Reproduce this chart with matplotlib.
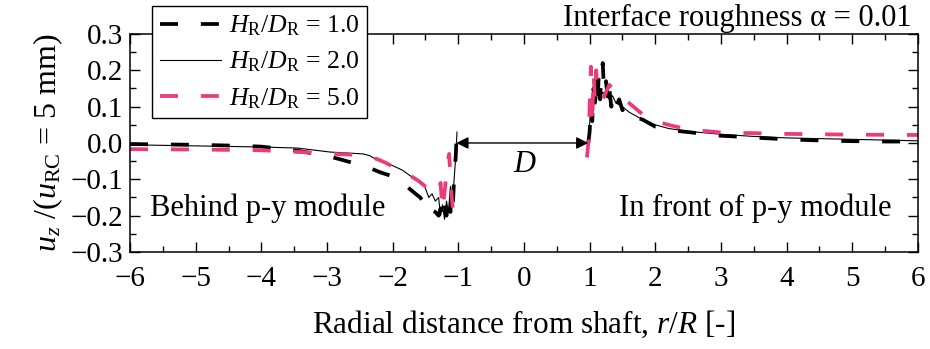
import numpy as np
import matplotlib.pyplot as plt
from matplotlib.ticker import MultipleLocator

plt.rcParams["font.family"] = ["Liberation Serif", "DejaVu Serif"]
plt.rcParams["mathtext.fontset"] = "custom"
plt.rcParams["mathtext.rm"] = "Liberation Serif"
plt.rcParams["mathtext.it"] = "Liberation Serif:italic"

PINK = "#EC3A7C"

# H_R/D_R = 1.0 (thick black dashed)
x1_left = [-6, -5.5, -5, -4.5, -4, -3.5, -3, -2.8, -2.6, -2.4, -2.2, -1.95, -1.85, -1.75, -1.65,
           -1.58, -1.5, -1.45, -1.4, -1.35, -1.3, -1.27, -1.24, -1.21, -1.18, -1.15, -1.12, -1.1,
           -1.08, -1.06, -1.04, -1.03, -1.02]
y1_left = [-0.003, -0.004, -0.005, -0.007, -0.01, -0.02, -0.035, -0.045, -0.055, -0.065, -0.08,
           -0.095, -0.11, -0.125, -0.14, -0.15, -0.17, -0.16, -0.185, -0.19, -0.2, -0.18, -0.21,
           -0.17, -0.2, -0.15, -0.19, -0.12, -0.16, -0.08, -0.04, 0.0, 0.03]
x1_right = [0.98, 1.0, 1.02, 1.04, 1.06, 1.08, 1.1, 1.12, 1.14, 1.16, 1.18, 1.2, 1.22, 1.25, 1.28,
            1.3, 1.33, 1.36, 1.4, 1.45, 1.5, 1.55, 1.6, 1.7, 1.8, 1.9, 2.0, 2.2, 2.4, 2.7, 3.0,
            3.5, 4.0, 4.5, 5.0, 5.5, 6.0]
y1_right = [0.0, 0.03, 0.1, 0.06, 0.15, 0.09, 0.17, 0.11, 0.19, 0.12, 0.2, 0.22, 0.14, 0.17, 0.11,
            0.15, 0.1, 0.13, 0.1, 0.12, 0.09, 0.1, 0.08, 0.07, 0.065, 0.055, 0.045, 0.037, 0.032,
            0.026, 0.02, 0.015, 0.01, 0.007, 0.005, 0.004, 0.004]

# H_R/D_R = 2.0 (thin black solid)
x2_left = [-6, -5, -4, -3.45, -2.95, -2.45, -2.35, -2.2, -2.05, -1.85, -1.75, -1.65, -1.55, -1.5,
           -1.45, -1.4, -1.35, -1.3, -1.27, -1.24, -1.21, -1.18, -1.15, -1.12, -1.09, -1.06,
           -1.04, -1.02]
y2_left = [-0.005, -0.008, -0.011, -0.014, -0.025, -0.03, -0.035, -0.05, -0.058, -0.075, -0.088,
           -0.1, -0.11, -0.125, -0.15, -0.14, -0.16, -0.15, -0.2, -0.17, -0.21, -0.16, -0.19,
           -0.12, -0.17, -0.09, -0.04, 0.03]
x2_right = [0.97, 1.0, 1.02, 1.05, 1.08, 1.1, 1.13, 1.16, 1.2, 1.25, 1.3, 1.35, 1.4, 1.5, 1.6,
            1.7, 1.8, 2.0, 2.2, 2.5, 3.0, 3.5, 4.0, 5.0, 6.0]
y2_right = [0.0, 0.05, 0.12, 0.08, 0.16, 0.11, 0.15, 0.12, 0.14, 0.13, 0.12, 0.13, 0.11, 0.1,
            0.085, 0.075, 0.065, 0.05, 0.04, 0.032, 0.024, 0.018, 0.014, 0.01, 0.006]

# H_R/D_R = 5.0 (pink dashed)
x3_left = [-6, -5, -4, -3.4, -2.9, -2.5, -2.3, -2.2, -2.1, -2.0, -1.9, -1.75, -1.6, -1.5, -1.4,
           -1.3, -1.27, -1.24, -1.2, -1.17, -1.14, -1.12, -1.1, -1.08, -1.06, -1.05]
y3_left = [-0.017, -0.018, -0.02, -0.025, -0.03, -0.033, -0.04, -0.047, -0.055, -0.065, -0.075,
           -0.088, -0.105, -0.12, -0.13, -0.14, -0.11, -0.185, -0.12, -0.06, -0.03, -0.09, -0.15,
           -0.19, -0.235, -0.23]
x3_right = [0.96, 0.98, 1.0, 1.02, 1.04, 1.06, 1.08, 1.1, 1.12, 1.15, 1.2, 1.25, 1.3, 1.35, 1.4,
            1.5, 1.6, 1.7, 1.8, 1.9, 2.0, 2.2, 2.5, 3.0, 3.5, 4.0, 5.0, 6.0]
y3_right = [-0.04, 0.0, 0.1, 0.21, 0.05, 0.19, 0.12, 0.2, 0.15, 0.13, 0.12, 0.14, 0.16, 0.15,
            0.14, 0.12, 0.11, 0.095, 0.08, 0.07, 0.06, 0.05, 0.037, 0.029, 0.027, 0.025, 0.023,
            0.022]

labels = [r"$H_\mathrm{R}/D_\mathrm{R}$ = 1.0", r"$H_\mathrm{R}/D_\mathrm{R}$ = 2.0",
          r"$H_\mathrm{R}/D_\mathrm{R}$ = 5.0"]

fig = plt.figure(figsize=(9.3, 3.49), dpi=100)
ax = fig.add_axes([0.1398, 0.278, 0.8472, 0.6246])

dash = (4.8, 6.1)
l1, = ax.plot(x1_left, y1_left, color="k", lw=2.7, dashes=dash, label=labels[0])
ax.plot(x1_right, y1_right, color="k", lw=2.7, dashes=dash)
l2, = ax.plot(x2_left, y2_left, color="k", lw=0.8, label=labels[1])
ax.plot(x2_right, y2_right, color="k", lw=0.8)
l3, = ax.plot(x3_left, y3_left, color=PINK, lw=2.7, dashes=dash, label=labels[2])
ax.plot(x3_right, y3_right, color=PINK, lw=2.7, dashes=dash)

ax.set_xlim(-6, 6)
ax.set_ylim(-0.3, 0.3)
ax.xaxis.set_major_locator(MultipleLocator(1))
ax.xaxis.set_minor_locator(MultipleLocator(0.5))
ax.yaxis.set_major_locator(MultipleLocator(0.1))
ax.yaxis.set_minor_locator(MultipleLocator(0.05))
ax.yaxis.set_major_formatter(plt.FuncFormatter(lambda v, p: f"{v:.1f}".replace("-", "\u2212")))
ax.tick_params(which="both", direction="in", top=True, right=True, width=1.0, labelsize=21)
ax.tick_params(which="major", length=7)
ax.tick_params(which="minor", length=4)
ax.tick_params(axis="x", pad=10)
ax.tick_params(axis="y", pad=5)
for s in ax.spines.values():
    s.set_linewidth(1.1)

ax.set_xlabel(r"Radial distance from shaft, $r/R$ [-]", fontsize=22.5, labelpad=12)
ax.set_ylabel(r"$u_z$ /($u_\mathrm{RC}$ = 5 mm)", fontsize=23, labelpad=4)

ax.annotate("", xy=(-1.03, 0.0), xytext=(0.98, 0.0),
            arrowprops=dict(arrowstyle="<|-|>", color="k", lw=1.0, mutation_scale=18,
                            shrinkA=0, shrinkB=0))
ax.text(0.02, -0.06, "$D$", fontsize=22, ha="center", va="center")
ax.text(-5.7, -0.18, "Behind p-y module", fontsize=22, ha="left", va="center")
ax.text(5.6, -0.18, "In front of p-y module", fontsize=22, ha="right", va="center")
fig.text(912 / 930, 1 - 18 / 349, "Interface roughness \u03b1 = 0.01", fontsize=22,
         ha="right", va="center")

leg = fig.legend(handles=[l1, l2, l3], loc="upper left", bbox_to_anchor=(152 / 930, 1 - 6 / 349),
                 fontsize=18.5, frameon=True, fancybox=False, edgecolor="k", framealpha=1,
                 handlelength=2.4, handletextpad=0.3, borderpad=0.3, labelspacing=0.45,
                 borderaxespad=0)
leg.get_frame().set_linewidth(1.0)

fig.savefig("out.png", dpi=100)
